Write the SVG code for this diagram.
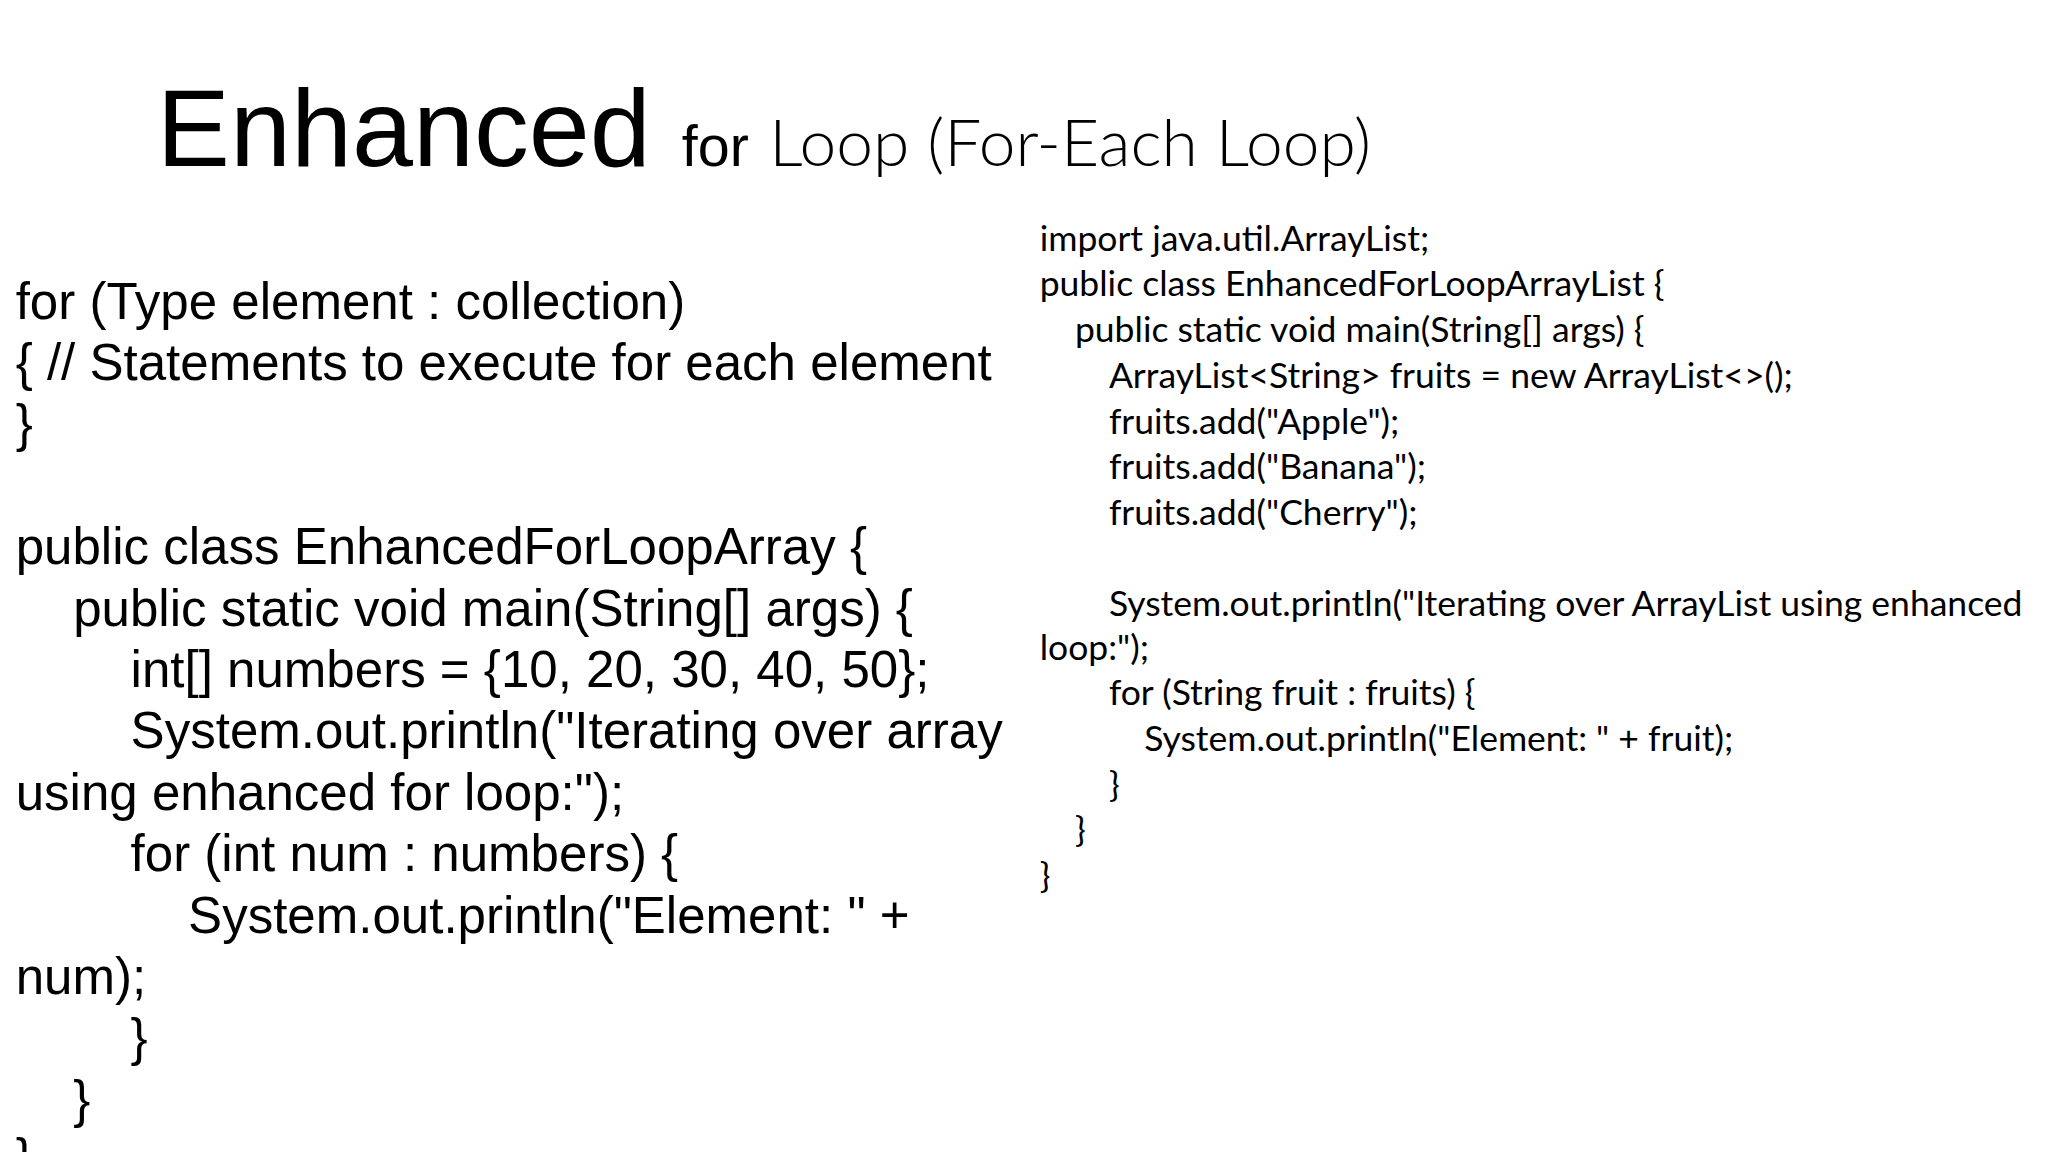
<svg xmlns="http://www.w3.org/2000/svg" width="2048" height="1152" viewBox="0 0 2048 1152">
<style>
.l{font-family:"Liberation Sans",Arial,sans-serif;font-size:39.1px;fill:#000}
.r{font-family:Lato,"Open Sans",sans-serif;font-size:27.2px;fill:#000}
</style>
<rect width="2048" height="1152" fill="#fff"/>
<g transform="scale(1.3061)">
<text x="120" y="127" font-family="Liberation Sans,Arial,sans-serif" font-size="84">Enhanced</text>
<text x="522" y="127" font-family="Liberation Sans,Arial,sans-serif" font-size="44">for</text>
<text x="589" y="127" font-family="Lato,'Open Sans',sans-serif" font-size="50.5" font-weight="300">Loop (For-Each Loop)</text>
<text x="12" y="244" class="l">for (Type element : collection)</text>
<text x="12" y="291" class="l">{ // Statements to execute for each element</text>
<text x="12" y="338" class="l">}</text>
<text x="12" y="432" class="l">public class EnhancedForLoopArray {</text>
<text x="56" y="479" class="l">public static void main(String[] args) {</text>
<text x="100" y="526" class="l">int[] numbers = {10, 20, 30, 40, 50};</text>
<text x="100" y="573" class="l">System.out.println("Iterating over array</text>
<text x="12" y="620" class="l">using enhanced for loop:");</text>
<text x="100" y="667" class="l">for (int num : numbers) {</text>
<text x="144" y="714" class="l">System.out.println("Element: " +</text>
<text x="12" y="761" class="l">num);</text>
<text x="100" y="808" class="l">}</text>
<text x="56" y="855" class="l">}</text>
<text x="12" y="900" class="l">}</text>
<text x="796" y="192" class="r">import java.util.ArrayList;</text>
<text x="796" y="227" class="r">public class EnhancedForLoopArrayList {</text>
<text x="823" y="262" class="r">public static void main(String[] args) {</text>
<text x="849" y="297" class="r">ArrayList&lt;String&gt; fruits = new ArrayList&lt;&gt;();</text>
<text x="849" y="332" class="r">fruits.add("Apple");</text>
<text x="849" y="367" class="r">fruits.add("Banana");</text>
<text x="849" y="402" class="r">fruits.add("Cherry");</text>
<text x="849" y="472" class="r">System.out.println("Iterating over ArrayList using enhanced</text>
<text x="796" y="505" class="r">loop:");</text>
<text x="849" y="540" class="r">for (String fruit : fruits) {</text>
<text x="876" y="575" class="r">System.out.println("Element: " + fruit);</text>
<text x="849" y="610" class="r">}</text>
<text x="823" y="645" class="r">}</text>
<text x="796" y="680" class="r">}</text>
</g>
</svg>
